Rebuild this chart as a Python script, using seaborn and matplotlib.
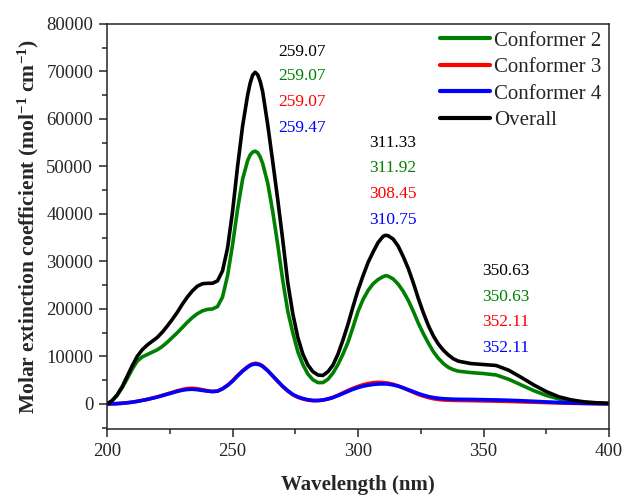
import matplotlib
matplotlib.use("Agg")
import matplotlib.pyplot as plt
import pandas as pd
import seaborn as sns
from matplotlib.ticker import MultipleLocator

wavelength = [200, 202, 204, 206, 208, 210, 212, 214, 216, 218, 220, 222, 224, 226, 228,
              230, 232, 234, 236, 238, 240, 242, 244, 246, 248, 250, 252, 254, 256, 257,
              258, 259, 260, 261, 262, 264, 266, 268, 270, 272, 274, 276, 278, 280, 282,
              284, 286, 288, 290, 292, 294, 296, 298, 300, 302, 304, 306, 308, 310, 311,
              312, 314, 316, 318, 320, 322, 324, 326, 328, 330, 332, 334, 336, 338, 340,
              345, 350, 355, 360, 365, 370, 375, 380, 385, 390, 395, 400]

conformer2 = [0, 650, 1800, 3400, 5300, 7300, 9000, 9900, 10400, 10900, 11400, 12100, 13000,
              14000, 15000, 16100, 17200, 18200, 19000, 19600, 19900, 20000, 20500, 22500,
              27000, 33500, 41000, 47300, 51200, 52400, 53000, 53200, 52900, 52000, 50600,
              46500, 40500, 33500, 26000, 19500, 15000, 11000, 8300, 6300, 5100, 4500, 4500,
              5200, 6500, 8300, 10500, 13000, 16200, 19500, 22000, 23900, 25300, 26200, 26800,
              27000, 26900, 26300, 25200, 23700, 21800, 19500, 17000, 14800, 12800, 11000,
              9600, 8500, 7700, 7200, 6900, 6600, 6400, 6100, 5200, 4000, 2800, 1800, 1050,
              550, 300, 150, 80]

conformer3 = [0, 30, 80, 150, 250, 380, 550, 760, 980, 1230, 1500, 1800, 2120, 2450, 2780,
              3050, 3250, 3300, 3200, 3000, 2800, 2650, 2700, 3200, 3950, 4900, 6000, 7000,
              7850, 8200, 8450, 8550, 8500, 8300, 8000, 7050, 5900, 4750, 3650, 2700, 1950,
              1400, 1050, 800, 680, 680, 800, 1050, 1400, 1850, 2350, 2850, 3300, 3700, 4050,
              4300, 4480, 4550, 4500, 4450, 4380, 4150, 3800, 3350, 2900, 2450, 2000, 1650,
              1350, 1100, 950, 850, 800, 760, 740, 700, 650, 600, 530, 450, 370, 290, 210,
              150, 100, 60, 30]

conformer4 = [0, 30, 80, 150, 250, 380, 550, 750, 950, 1200, 1450, 1750, 2050, 2350, 2650,
              2900, 3050, 3100, 3000, 2850, 2700, 2600, 2700, 3200, 3900, 4800, 5900, 6900,
              7750, 8100, 8300, 8400, 8350, 8200, 7900, 7000, 5900, 4800, 3700, 2800, 2000,
              1500, 1150, 900, 750, 750, 850, 1050, 1350, 1750, 2200, 2650, 3100, 3450, 3750,
              3950, 4100, 4200, 4220, 4210, 4170, 4000, 3750, 3400, 3000, 2600, 2200, 1850,
              1550, 1350, 1200, 1100, 1050, 1000, 980, 950, 900, 850, 780, 680, 560, 430,
              320, 220, 140, 80, 40]

overall = [0, 700, 1900, 3600, 5800, 8000, 10000, 11400, 12400, 13200, 14000, 15100, 16400,
           17800, 19300, 21000, 22500, 23800, 24800, 25300, 25400, 25400, 25900, 28000,
           32800, 40500, 50000, 58500, 65000, 67500, 69200, 69800, 69300, 67900, 65700,
           58800, 51000, 43000, 34500, 25500, 19000, 14000, 10500, 8200, 6800, 6100, 6000,
           6800, 8200, 10500, 13500, 16800, 20500, 24000, 27000, 29800, 32000, 34000, 35300,
           35500, 35400, 34700, 33200, 31000, 28500, 25500, 22200, 19200, 16500, 14300,
           12600, 11300, 10300, 9500, 9000, 8500, 8300, 8100, 7100, 5600, 4000, 2600, 1500,
           850, 450, 250, 150]

series_names = ["Conformer 2", "Conformer 3", "Conformer 4", "Overall"]
series_colors = ["#008000", "#ff0000", "#0000ff", "#000000"]

peak_labels = [["259.07", "259.07", "259.07", "259.47"],
               ["311.33", "311.92", "308.45", "310.75"],
               ["350.63", "350.63", "352.11", "352.11"]]
label_x = [268.4, 304.4, 349.6]
label_y = [[74100, 69050, 63600, 58100],
           [54900, 49700, 44200, 38700],
           [28000, 22500, 17300, 11800]]
label_colors = ["#000000", "#008000", "#ff0000", "#0000ff"]

df = pd.DataFrame({"Wavelength": wavelength * 4,
                   "Epsilon": conformer2 + conformer3 + conformer4 + overall,
                   "Series": [n for n in series_names for _ in wavelength]})

sns.set_style("ticks")
plt.rcParams["font.family"] = ["Liberation Serif", "DejaVu Serif"]
plt.rcParams["mathtext.fontset"] = "custom"
plt.rcParams["mathtext.bf"] = "Liberation Serif:bold"
plt.rcParams["mathtext.rm"] = "Liberation Serif"
plt.rcParams["lines.solid_joinstyle"] = "round"

fig = plt.figure(figsize=(6.26, 4.97), dpi=100)
ax = fig.add_axes([0.171, 0.137, 0.802, 0.815])

sns.lineplot(data=df, x="Wavelength", y="Epsilon", hue="Series", hue_order=series_names,
             palette=series_colors, linewidth=2.6, sort=False, ax=ax)

for col in range(3):
    for row in range(4):
        ax.text(label_x[col], label_y[col][row], peak_labels[col][row],
                color=label_colors[row], fontsize=12.5, ha="left", va="center")

ax.set_xlim(200, 400)
ax.set_ylim(-5250, 80000)
ax.xaxis.set_major_locator(MultipleLocator(50))
ax.xaxis.set_minor_locator(MultipleLocator(25))
ax.yaxis.set_major_locator(MultipleLocator(10000))
ax.yaxis.set_minor_locator(MultipleLocator(5000))
ax.tick_params(which="major", direction="out", length=6, width=1.1, labelsize=13.5, pad=4)
ax.tick_params(which="minor", direction="out", length=3.5, width=1.1)
for s in ax.spines.values():
    s.set_linewidth(1.1)

ax.set_xlabel("Wavelength (nm)", fontsize=15, fontweight="bold", labelpad=11)
ax.set_ylabel(r"Molar extinction coefficient (mol$\mathbf{^{-1}}$ cm$\mathbf{^{-1}}$)",
              fontsize=15.5, fontweight="bold", labelpad=4)

leg = ax.legend(loc="upper right", bbox_to_anchor=(1.0, 1.0), frameon=False, fontsize=15,
                handlelength=2.4, handletextpad=0.2, labelspacing=0.33,
                borderaxespad=0.0, borderpad=0.35)
for h in leg.get_lines():
    h.set_linewidth(3)

fig.savefig("out.png", dpi=100)
